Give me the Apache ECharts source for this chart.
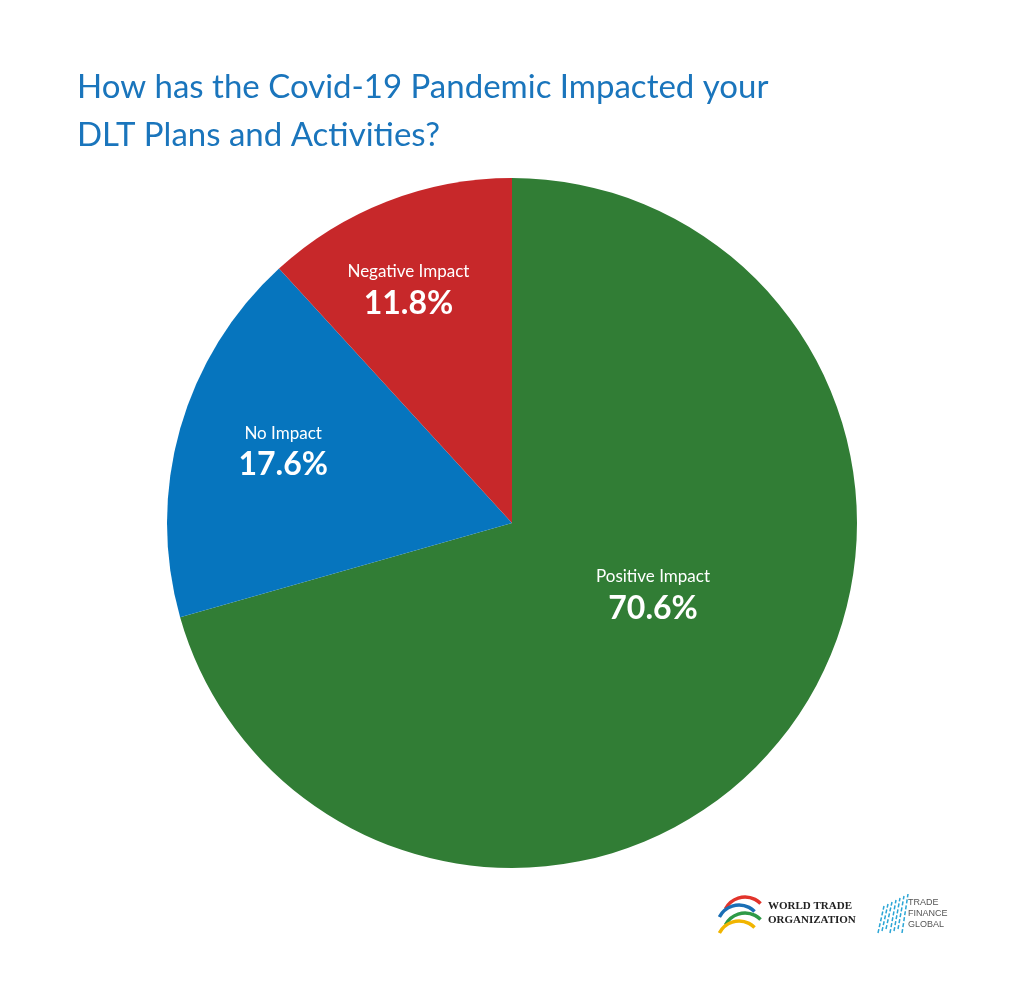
<!DOCTYPE html>
<html>
<head>
<meta charset="utf-8">
<script src="https://cdn.jsdelivr.net/npm/echarts@6/dist/echarts.min.js"></script>
<style>
  html, body { margin: 0; padding: 0; background: #fff; }
  #chart { width: 1024px; height: 999px; }
</style>
</head>
<body>
<div id="chart"></div>
<script>
// data
const categories = ['Positive Impact', 'No Impact', 'Negative Impact'];
const shares = [70.6, 17.6, 11.8];
const sliceColors = ['#317d35', '#0675be', '#c7282a'];
// nudges so the labels sit where the original put them
const labelOffsets = [[1, -34], [-60, -24], [-40, -70]];

const chart = echarts.init(document.getElementById('chart'));

const pieData = categories.map((name, i) => ({
  name: name,
  value: shares[i],
  itemStyle: { color: sliceColors[i] },
  label: { offset: labelOffsets[i] },
}));

// little arcs standing in for the WTO mark
const wtoArcs = [
  { r: 22, color: '#e2342b', y: 905 },
  { r: 22, color: '#1a6fb5', y: 913 },
  { r: 22, color: '#2e9a47', y: 921 },
  { r: 22, color: '#f1b500', y: 929 },
];

const option = {
  backgroundColor: '#fff',
  title: {
    text: 'How has the Covid-19 Pandemic Impacted your\nDLT Plans and Activities?',
    left: 72,
    top: 58,
    textStyle: {
      color: '#1a75bc',
      fontFamily: 'Lato',
      fontWeight: 'normal',
      fontSize: 33,
      lineHeight: 48,
    },
  },
  series: [
    {
      type: 'pie',
      center: [512, 523],
      radius: 345,
      startAngle: 90,
      clockwise: true,
      animation: false,
      silent: true,
      label: {
        show: true,
        position: 'inside',
        color: '#fff',
        fontFamily: 'Lato',
        formatter: p => '{n|' + p.name + '}\n{v|' + p.value.toFixed(1) + '%}',
        rich: {
          n: { fontSize: 17, color: '#fff', fontFamily: 'Lato', lineHeight: 28 },
          v: { fontSize: 32, color: '#fff', fontFamily: 'Lato', fontWeight: 'bold', lineHeight: 36 },
        },
      },
      labelLine: { show: false },
      data: pieData,
    },
  ],
  graphic: [
    ...wtoArcs.map((a, i) => ({
      type: 'arc',
      shape: { cx: 742 + (i % 2 ? -3 : 3), cy: a.y + 14, r: a.r, startAngle: -Math.PI * 0.85, endAngle: -Math.PI * 0.25 },
      style: { stroke: a.color, lineWidth: 3.5, fill: null },
    })),
    {
      type: 'text',
      left: 768,
      top: 899,
      style: {
        text: 'WORLD TRADE\nORGANIZATION',
        font: 'bold 11px "Liberation Serif"',
        fill: '#222',
        lineHeight: 14,
      },
    },
    ...[0, 1, 2, 3, 4, 5, 6].map(i => ({
      type: 'line',
      shape: { x1: 878 + i * 4, y1: 933 - (i % 3) * 2, x2: 884 + i * 4, y2: 906 - i * 2 },
      style: { stroke: '#2ba6d6', lineWidth: 1.5, lineDash: [4, 2] },
    })),
    {
      type: 'text',
      left: 908,
      top: 897,
      style: {
        text: 'TRADE\nFINANCE\nGLOBAL',
        font: '9px "Liberation Sans"',
        fill: '#555',
        lineHeight: 11,
      },
    },
  ],
};

chart.setOption(option);
</script>
</body>
</html>
